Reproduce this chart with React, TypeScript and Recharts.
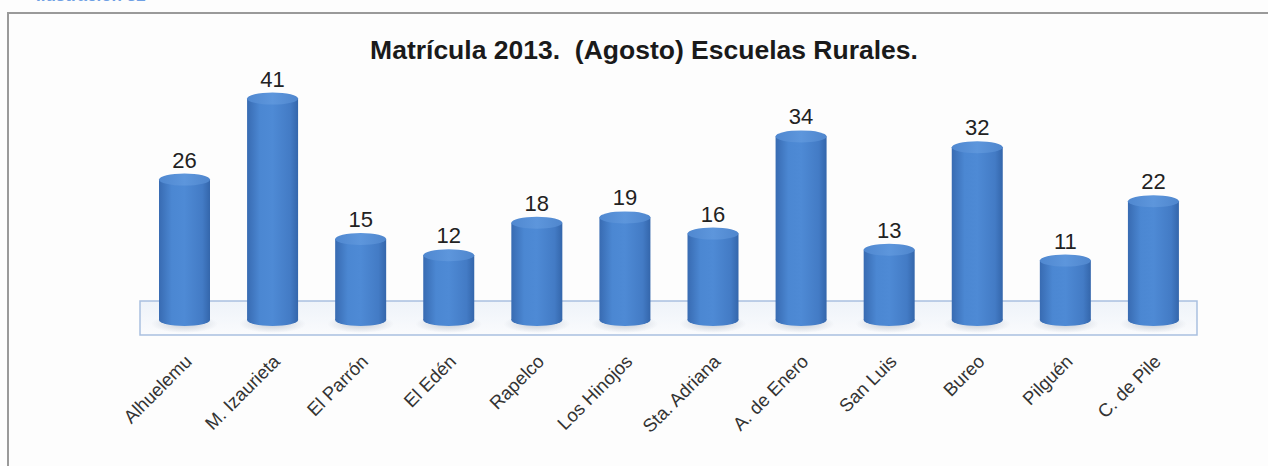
import { Bar, BarChart, LabelList, ReferenceArea, XAxis, YAxis } from 'recharts';

const schools = [
  'Alhuelemu',
  'M. Izaurieta',
  'El Parrón',
  'El Edén',
  'Rapelco',
  'Los Hinojos',
  'Sta. Adriana',
  'A. de Enero',
  'San Luis',
  'Bureo',
  'Pilguén',
  'C. de Pile',
];

const enrollment = [26, 41, 15, 12, 18, 19, 16, 34, 13, 32, 11, 22];

const data = schools.map((name, i) => ({ name, value: enrollment[i] }));

const FONT = '"Liberation Sans", Arial, sans-serif';

// cylinder drawn on top of the bar rect recharts gives us
const Cylinder = (props: any) => {
  const { x, y, width, height } = props;
  const cx = x + width / 2;
  const ry = 6;
  return (
    <g>
      <ellipse cx={cx} cy={y + height + 4} rx={width / 2 + 8} ry={9} fill='url(#shadow)' />
      <ellipse cx={cx} cy={y + height} rx={width / 2} ry={ry} fill='url(#cylBody)' />
      <rect x={x} y={y} width={width} height={height} fill='url(#cylBody)' />
      <ellipse cx={cx} cy={y} rx={width / 2} ry={ry} fill='url(#cylTop)' />
    </g>
  );
};

const SchoolTick = (props: any) => {
  const { x, y, payload } = props;
  return (
    <g transform={`translate(${x + 9},${y + 13})`}>
      <text
        textAnchor='end'
        transform='rotate(-45)'
        fontSize={18.5}
        fontFamily={FONT}
        fill='#333'
      >
        {payload.value}
      </text>
    </g>
  );
};

export default function App() {
  return (
    <div
      style={{
        position: 'absolute',
        left: 0,
        top: 0,
        width: 1268,
        height: 466,
        overflow: 'hidden',
        background: '#fdfdfd',
      }}
    >
      <div
        style={{
          position: 'absolute',
          left: 36,
          top: -14,
          fontFamily: FONT,
          fontWeight: 'bold',
          fontSize: 17,
          color: '#6fa0e4',
        }}
      >
        Ilustración 32
      </div>
      <div
        style={{
          position: 'absolute',
          left: 7,
          top: 12,
          width: 1320,
          height: 520,
          border: '2px solid #9a9a9a',
          boxSizing: 'border-box',
        }}
      />
      <div
        style={{
          position: 'absolute',
          left: 0,
          top: 35,
          width: 1288,
          textAlign: 'center',
          fontFamily: FONT,
          fontWeight: 'bold',
          fontSize: 26.5,
          color: '#1a1a1a',
          whiteSpace: 'pre',
        }}
      >
        Matrícula 2013.  (Agosto) Escuelas Rurales.
      </div>
      <div style={{ position: 'absolute', left: 0, top: 0 }}>
        <BarChart
          width={1268}
          height={466}
          data={data}
          margin={{ top: 71.6, right: 71, bottom: 30.4, left: 140 }}
        >
          <defs>
            <linearGradient id='cylBody' x1='0' y1='0' x2='1' y2='0'>
              <stop offset='0%' stopColor='#386bb2' />
              <stop offset='25%' stopColor='#4b87d2' />
              <stop offset='50%' stopColor='#4e8ad5' />
              <stop offset='85%' stopColor='#437bc5' />
              <stop offset='100%' stopColor='#3466ab' />
            </linearGradient>
            <linearGradient id='cylTop' x1='0' y1='0' x2='1' y2='0'>
              <stop offset='0%' stopColor='#5088d0' />
              <stop offset='50%' stopColor='#5d96dc' />
              <stop offset='100%' stopColor='#4f86cd' />
            </linearGradient>
            <linearGradient id='floor' x1='0' y1='0' x2='0' y2='1'>
              <stop offset='0%' stopColor='#eef3f9' />
              <stop offset='100%' stopColor='#fafbfd' />
            </linearGradient>
            <radialGradient id='shadow'>
              <stop offset='0%' stopColor='#8a97a8' stopOpacity={0.45} />
              <stop offset='100%' stopColor='#8a97a8' stopOpacity={0} />
            </radialGradient>
          </defs>
          <YAxis hide domain={[-4, 46]} allowDataOverflow />
          <XAxis
            dataKey='name'
            axisLine={false}
            tickLine={false}
            interval={0}
            height={94}
            tick={<SchoolTick />}
          />
          <ReferenceArea
            y1={-2.8}
            y2={3.5}
            fill='url(#floor)'
            fillOpacity={1}
            stroke='#a9c0e0'
            strokeWidth={1.5}
            ifOverflow='visible'
          />
          <Bar dataKey='value' barSize={51} shape={<Cylinder />} isAnimationActive={false}>
            <LabelList
              dataKey='value'
              position='top'
              offset={12}
              fontSize={22}
              fontFamily={FONT}
              fill='#222'
            />
          </Bar>
        </BarChart>
      </div>
    </div>
  );
}
